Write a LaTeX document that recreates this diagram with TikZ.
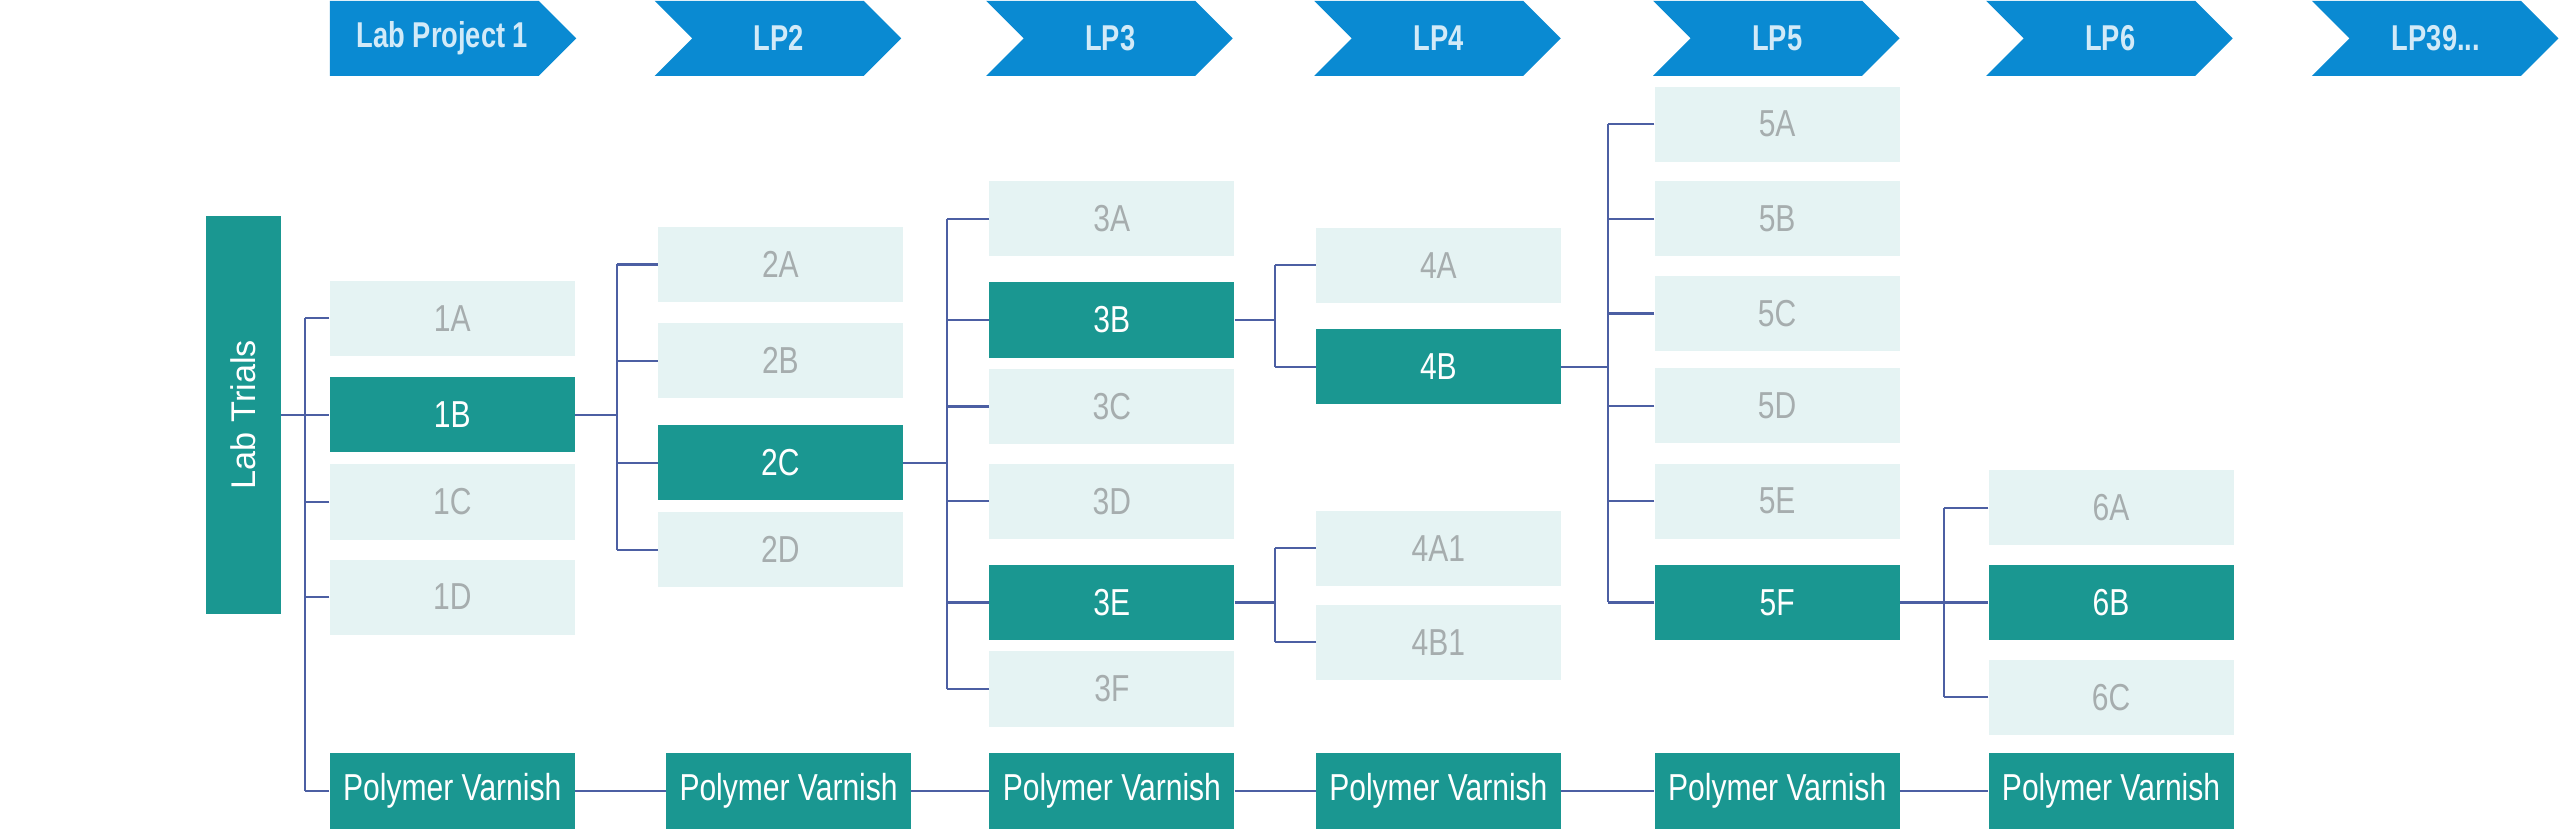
\documentclass[tikz,border=0pt]{standalone}
\usepackage{fontspec}
\setmainfont{Liberation Sans}
\newfontfamily\condf[FakeStretch=0.80]{Liberation Sans}
\newfontfamily\chevf[FakeStretch=0.76]{Liberation Sans}
\definecolor{chevc}{HTML}{0A8AD2}
\definecolor{chevtext}{HTML}{D2EAF8}
\definecolor{tealc}{HTML}{1A9791}
\definecolor{lightc}{HTML}{E5F3F3}
\definecolor{greyc}{HTML}{A6ADAE}
\definecolor{linec}{HTML}{4C5FA3}
\tikzset{
  lbox/.style={rectangle, fill=lightc, minimum width=150pt, minimum height=46pt, inner sep=0pt, text=greyc, font=\condf\fontsize{23}{26}\selectfont},
  dbox/.style={lbox, fill=tealc, text=white},
  conn/.style={draw=linec, line width=1.3pt},
  chevfill/.style={fill=chevc},
  chevlabel/.style={text=chevtext, inner sep=0pt, font=\chevf\bfseries\fontsize{22}{26}\selectfont},
}
\newcommand\chevpath[1]{\fill[chevfill] (#1,0.5) -- (#1+128,0.5) -- (#1+151,23.5) -- (#1+128,46.5) -- (#1,46.5) -- (#1+23,23.5) -- cycle;}
\begin{document}
\begin{tikzpicture}[x=1pt,y=-1pt]
\useasboundingbox[fill=white] (0,0) rectangle (1568,507.8);
% chevrons
\fill[chevfill] (202,0.5) -- (330,0.5) -- (353,23.5) -- (330,46.5) -- (202,46.5) -- cycle;
\node[chevlabel] (lp1) at (271,23.5) {Lab Project 1};
\chevpath{401}
\node[chevlabel] (lp2) at (477,23.5) {LP2};
\chevpath{604}
\node[chevlabel] (lp3) at (680,23.5) {LP3};
\chevpath{805}
\node[chevlabel] (lp4) at (881,23.5) {LP4};
\chevpath{1012.5}
\node[chevlabel] (lp5) at (1088.5,23.5) {LP5};
\chevpath{1216.5}
\node[chevlabel] (lp6) at (1292.5,23.5) {LP6};
\chevpath{1416}
\node[chevlabel] (lp7) at (1492,23.5) {LP39...};
% Lab Trials
\node[rectangle, fill=tealc, rotate=90, minimum width=244pt, minimum height=46pt, inner sep=0pt, text=white, font=\fontsize{21}{24}\selectfont] (lt) at (149,254) {Lab Trials};
% column 1
\node[lbox] (a1) at (277,195) {1A};
\node[dbox] (b1) at (277,254) {1B};
\node[lbox] (c1) at (277,307.5) {1C};
\node[lbox] (d1) at (277,365.7) {1D};
% column 2
\node[lbox] (a2) at (478,162) {2A};
\node[lbox] (b2) at (478,221) {2B};
\node[dbox] (c2) at (478,283.4) {2C};
\node[lbox] (d2) at (478,336.7) {2D};
% column 3
\node[lbox] (a3) at (681,134) {3A};
\node[dbox] (b3) at (681,196) {3B};
\node[lbox] (c3) at (681,249) {3C};
\node[lbox] (d3) at (681,307) {3D};
\node[dbox] (e3) at (681,369) {3E};
\node[lbox] (f3) at (681,422) {3F};
% column 4
\node[lbox] (a4) at (881,162.5) {4A};
\node[dbox] (b4) at (881,224.7) {4B};
\node[lbox] (a41) at (881,335.9) {4A1};
\node[lbox] (b41) at (881,393.3) {4B1};
% column 5
\node[lbox] (a5) at (1088.5,76) {5A};
\node[lbox] (b5) at (1088.5,134) {5B};
\node[lbox] (c5) at (1088.5,192) {5C};
\node[lbox] (d5) at (1088.5,248.5) {5D};
\node[lbox] (e5) at (1088.5,307) {5E};
\node[dbox] (f5) at (1088.5,369) {5F};
% column 6
\node[lbox] (a6) at (1293,311) {6A};
\node[dbox] (b6) at (1293,369) {6B};
\node[lbox] (c6) at (1293,427) {6C};
% polymer varnish row
\node[dbox] (pv1) at (277,484.5) {Polymer Varnish};
\node[dbox] (pv2) at (483,484.5) {Polymer Varnish};
\node[dbox] (pv3) at (681,484.5) {Polymer Varnish};
\node[dbox] (pv4) at (881,484.5) {Polymer Varnish};
\node[dbox] (pv5) at (1088.5,484.5) {Polymer Varnish};
\node[dbox] (pv6) at (1293,484.5) {Polymer Varnish};
% bus coordinates
\coordinate (bus1) at (187,0);
\coordinate (bus2) at (378,0);
\coordinate (bus3) at (580,0);
\coordinate (bus4) at (781,0);
\coordinate (bus5) at (985,0);
\coordinate (bus6) at (1190.5,0);
% connectors level 1
\draw[conn] (lt.south) -- (b1.west);
\draw[conn] (a1.west -| bus1) -- (pv1.west -| bus1);
\foreach \n in {a1,c1,d1,pv1} \draw[conn] (\n.west) -- (\n.west -| bus1);
% level 2
\draw[conn] (b1.east) -- (b1.east -| bus2);
\draw[conn] (a2.west -| bus2) -- (d2.west -| bus2);
\foreach \n in {a2,b2,c2,d2} \draw[conn] (\n.west) -- (\n.west -| bus2);
% level 3
\draw[conn] (c2.east) -- (c2.east -| bus3);
\draw[conn] (a3.west -| bus3) -- (f3.west -| bus3);
\foreach \n in {a3,b3,c3,d3,e3,f3} \draw[conn] (\n.west) -- (\n.west -| bus3);
% level 4
\draw[conn] (b3.east) -- (b3.east -| bus4);
\draw[conn] (a4.west -| bus4) -- (b4.west -| bus4);
\foreach \n in {a4,b4} \draw[conn] (\n.west) -- (\n.west -| bus4);
\draw[conn] (e3.east) -- (e3.east -| bus4);
\draw[conn] (a41.west -| bus4) -- (b41.west -| bus4);
\foreach \n in {a41,b41} \draw[conn] (\n.west) -- (\n.west -| bus4);
% level 5
\draw[conn] (b4.east) -- (b4.east -| bus5);
\draw[conn] (a5.west -| bus5) -- (f5.west -| bus5);
\foreach \n in {a5,b5,c5,d5,e5,f5} \draw[conn] (\n.west) -- (\n.west -| bus5);
% level 6
\draw[conn] (f5.east) -- (b6.west);
\draw[conn] (a6.west -| bus6) -- (c6.west -| bus6);
\foreach \n in {a6,c6} \draw[conn] (\n.west) -- (\n.west -| bus6);
% polymer varnish chain
\draw[conn] (pv1.east) -- (pv2.west);
\draw[conn] (pv2.east) -- (pv3.west);
\draw[conn] (pv3.east) -- (pv4.west);
\draw[conn] (pv4.east) -- (pv5.west);
\draw[conn] (pv5.east) -- (pv6.west);
\end{tikzpicture}
\end{document}
